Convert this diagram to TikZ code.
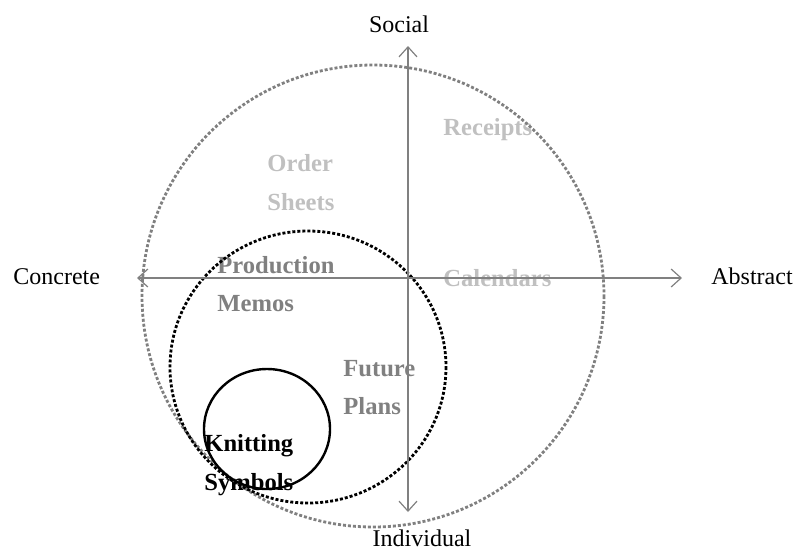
\documentclass[tikz,border=0pt]{standalone}
\usepackage{fontspec}
\setmainfont{Liberation Serif}
\usetikzlibrary{arrows.meta}
\definecolor{axisgray}{HTML}{808080}
\definecolor{lightlab}{HTML}{C0C0C0}
\definecolor{midlab}{HTML}{808080}
\tikzset{
  axis/.style={draw=axisgray, line width=0.75pt, -{Straight Barb[length=5pt,width=9pt,line width=0.6pt]}},
  biglabel/.style={font=\fontsize{12}{14}\selectfont, inner sep=0pt},
  boldlab/.style={font=\fontsize{12.3}{14}\selectfont\bfseries, inner sep=0pt, anchor=base west},
  outer/.style={draw=axisgray, line width=1.4pt, dash pattern=on 1.5pt off 1pt},
  middle/.style={draw=black, line width=1.4pt, dash pattern=on 1.5pt off 1pt},
  inner/.style={draw=black, line width=1.2pt}
}
\begin{document}
\begin{tikzpicture}[x=0.5pt,y=-0.5pt]
\useasboundingbox (0,0) rectangle (798,554);
% labels
\node[boldlab, text=lightlab] (order) at (267,171) {Order};
\node[boldlab, text=lightlab] (sheets) at (267,210) {Sheets};
\node[boldlab, text=lightlab] (receipts) at (443,135) {Receipts};
\node[boldlab, text=lightlab] (calendars) at (443,286) {Calendars};
\node[boldlab, text=midlab] (production) at (217,273) {Production};
\node[boldlab, text=midlab] (memos) at (217,311) {Memos};
\node[boldlab, text=midlab] (future) at (343,376) {Future};
\node[boldlab, text=midlab] (plans) at (343,414) {Plans};
\node[boldlab, text=black] (knitting) at (204,451) {Knitting};
\node[boldlab, text=black] (symbols) at (204,490) {Symbols};
% axis labels
\node[biglabel, anchor=base] (social) at (399,32) {Social};
\node[biglabel, anchor=base] (individual) at (422,546) {Individual};
\node[biglabel, anchor=base west] (concrete) at (13,284) {Concrete};
\node[biglabel, anchor=base west] (abstract) at (711,284) {Abstract};
% axis coordinates
\coordinate (top) at (408,46);
\coordinate (bottom) at (408,512);
\coordinate (left) at (137,278);
\coordinate (right) at (682,278);
\coordinate (origin) at (408,278);
% circles
\draw[outer] (373,296) circle[radius=231];
\draw[middle] (308,367) ellipse[x radius=138, y radius=136];
\draw[inner] (267,429) ellipse[x radius=63, y radius=60];
% axes
\draw[axis] (origin) -- (top);
\draw[axis] (origin) -- (bottom);
\draw[axis] (origin) -- (left);
\draw[axis] (origin) -- (right);
\end{tikzpicture}
\end{document}
